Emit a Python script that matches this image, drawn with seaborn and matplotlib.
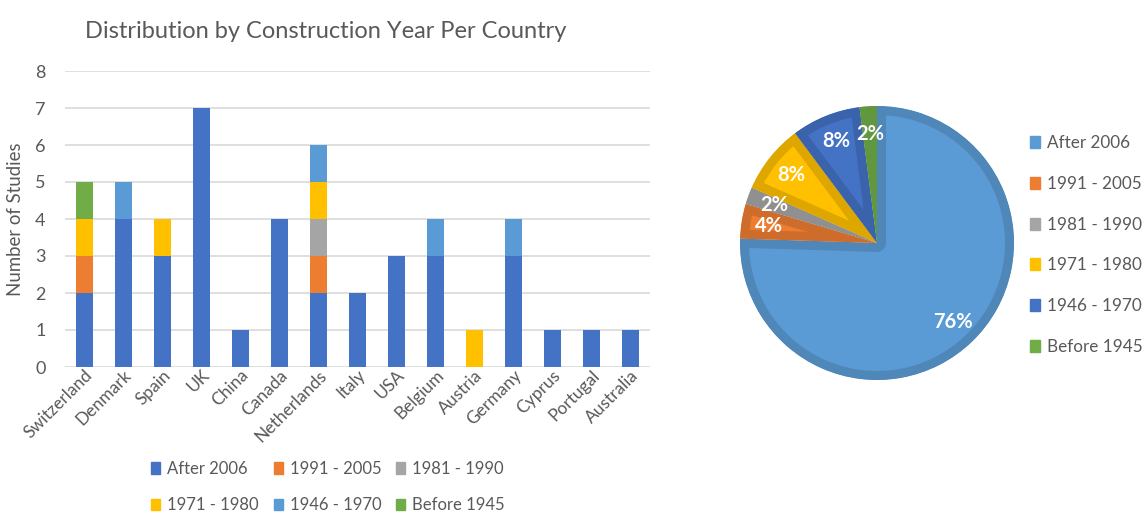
import numpy as np
import pandas as pd
import seaborn as sns
from matplotlib import pyplot as plt
from matplotlib.patches import Patch
from matplotlib.colors import to_rgb

countries = ['Switzerland', 'Denmark', 'Spain', 'UK', 'China', 'Canada', 'Netherlands',
             'Italy', 'USA', 'Belgium', 'Austria', 'Germany', 'Cyprus', 'Portugal', 'Australia']
periods = ['After 2006', '1991 - 2005', '1981 - 1990', '1971 - 1980', '1946 - 1970', 'Before 1945']

after_2006 = [2, 4, 3, 7, 1, 4, 2, 2, 3, 3, 0, 3, 1, 1, 1]
y1991_2005 = [1, 0, 0, 0, 0, 0, 1, 0, 0, 0, 0, 0, 0, 0, 0]
y1981_1990 = [0, 0, 0, 0, 0, 0, 1, 0, 0, 0, 0, 0, 0, 0, 0]
y1971_1980 = [1, 0, 1, 0, 0, 0, 1, 0, 0, 0, 1, 0, 0, 0, 0]
y1946_1970 = [0, 1, 0, 0, 0, 0, 1, 0, 0, 1, 0, 1, 0, 0, 0]
before_1945 = [1, 0, 0, 0, 0, 0, 0, 0, 0, 0, 0, 0, 0, 0, 0]

bar_colors = ['#4472C4', '#ED7D31', '#A5A5A5', '#FFC000', '#5B9BD5', '#70AD47']
pie_colors = ['#5B9BD5', '#ED7D31', '#A5A5A5', '#FFC000', '#4472C4', '#70AD47']

TXT = '#595959'

sns.set_style('white')
plt.rcParams['font.family'] = ['Lato', 'DejaVu Sans']

counts = pd.DataFrame(dict(zip(periods, [after_2006, y1991_2005, y1981_1990,
                                         y1971_1980, y1946_1970, before_1945])),
                      index=countries)
cum = counts.cumsum(axis=1)

fig = plt.figure(figsize=(11.47, 5.14), dpi=100)

# stacked bars: draw cumulative totals from the top segment down
ax = fig.add_axes([65 / 1147, 1 - 367 / 514, 585 / 1147, 296 / 514])
for i in range(len(periods) - 1, -1, -1):
    sns.barplot(x=countries, y=cum[periods[i]].values, color=bar_colors[i],
                saturation=1, width=0.42, linewidth=0, ax=ax)
ax.set_ylim(0, 8)
ax.set_xlim(-0.5, len(countries) - 0.5)
ax.set_yticks(range(0, 9))
ax.yaxis.grid(True, color='#D9D9D9', lw=1.2)
ax.set_axisbelow(True)
sns.despine(ax=ax, left=True, bottom=True)
ax.tick_params(length=0, labelsize=13, colors=TXT)
ax.tick_params(axis='y', pad=14)
ax.tick_params(axis='x', labelsize=12.5, pad=0)
plt.setp(ax.get_xticklabels(), rotation=45, ha='right', rotation_mode='anchor')
ax.set_ylabel('Number of Studies', fontsize=13.4, color=TXT, labelpad=8)
ax.set_title('Distribution by Construction Year Per Country', fontsize=17,
             color=TXT, pad=24, x=0.445)

handles = [Patch(color=c, label=p) for p, c in zip(periods, bar_colors)]
order = [0, 3, 1, 4, 2, 5]
fig.legend([handles[k] for k in order], [periods[k] for k in order], ncol=3,
           loc='center', bbox_to_anchor=(328 / 1147, 1 - 487 / 514), frameon=False,
           fontsize=12, labelcolor=TXT, handlelength=0.55, handleheight=0.7,
           handletextpad=0.4, columnspacing=0.9, labelspacing=1.25,
           borderpad=0.2)

# pie
totals = counts.sum(axis=0).values
r = 137
axp = fig.add_axes([(877 - r) / 1147, 1 - (243 + r) / 514, 2 * r / 1147, 2 * r / 514])
wedges, texts, autotexts = axp.pie(
    totals, colors=pie_colors, startangle=90, counterclock=False,
    autopct=lambda p: f'{p:.0f}%', pctdistance=0.8,
    textprops=dict(color='white', fontsize=14.5, fontweight='bold'))
for w, c in zip(wedges, pie_colors):
    w.set_edgecolor(tuple(v * 0.87 for v in to_rgb(c)))
    w.set_linewidth(13)
    w.set_joinstyle('round')
    w.set_clip_path(w)
    w.set_clip_on(True)
axp.set_xlim(-1, 1)
axp.set_ylim(-1, 1)

pie_handles = [Patch(color=c, label=p) for p, c in zip(periods, pie_colors)]
fig.legend(handles=pie_handles, loc='center left',
           bbox_to_anchor=(1015 / 1147, 1 - 245 / 514), frameon=False,
           fontsize=12.3, labelcolor=TXT, handlelength=0.55, handleheight=0.7,
           handletextpad=0.4, labelspacing=1.45)

fig.savefig('out.png', dpi=100)
